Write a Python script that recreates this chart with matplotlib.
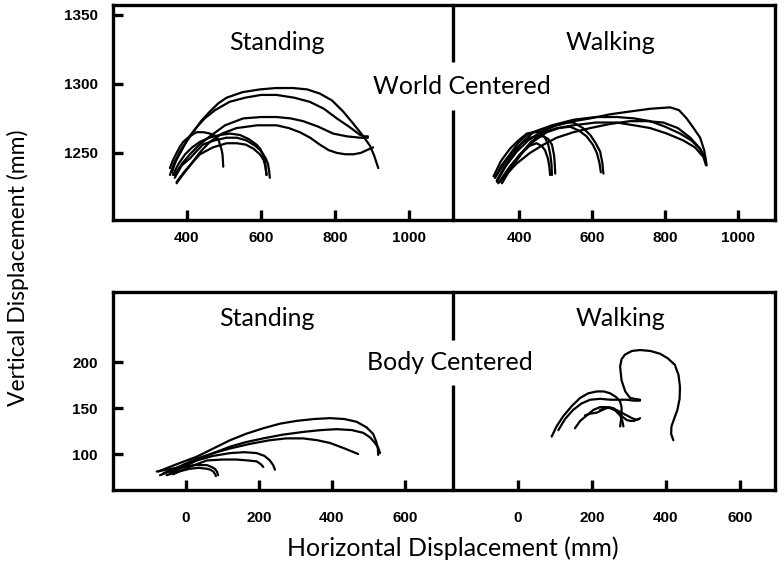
import matplotlib
matplotlib.use("Agg")
import matplotlib.pyplot as plt
from matplotlib.lines import Line2D

# ---- world centered, standing (x mm, y mm) ----
ws_x1 = [354, 366, 381, 398, 417, 438, 462, 485, 507, 550, 597, 640, 687, 725, 759, 792, 822, 847, 868, 882, 895, 906, 917]
ws_y1 = [1234, 1243, 1251, 1258, 1265, 1273, 1280, 1286, 1290, 1294, 1296, 1297, 1297, 1296, 1293, 1288, 1280, 1272, 1265, 1260, 1255, 1248, 1239]
ws_x2 = [359, 370, 386, 404, 424, 448, 476, 515, 557, 600, 642, 690, 732, 770, 805, 838, 868, 880, 889]
ws_y2 = [1236, 1244, 1252, 1261, 1268, 1275, 1281, 1287, 1290, 1292, 1292, 1290, 1287, 1282, 1275, 1269, 1263, 1262, 1262]
ws_x3 = [367, 386, 408, 434, 462, 503, 552, 600, 642, 680, 714, 755, 795, 832, 868, 889]
ws_y3 = [1234, 1242, 1249, 1256, 1262, 1270, 1275, 1276, 1276, 1275, 1273, 1269, 1264, 1262, 1261, 1261]
ws_x4 = [372, 392, 414, 437, 462, 495, 534, 590, 642, 675, 705, 733, 759, 783, 805, 828, 850, 870, 886, 903]
ws_y4 = [1229, 1236, 1243, 1251, 1258, 1264, 1268, 1270, 1270, 1268, 1265, 1261, 1256, 1252, 1250, 1249, 1249, 1250, 1252, 1254]
ws_x5 = [354, 361, 370, 380, 390, 407, 426, 445, 462, 473, 481, 486, 489, 493, 496, 497, 498]
ws_y5 = [1239, 1244, 1249, 1254, 1258, 1262, 1265, 1265, 1264, 1263, 1261, 1259, 1256, 1253, 1249, 1245, 1240]
ws_x6 = [362, 377, 395, 414, 435, 460, 489, 516, 543, 567, 588, 598, 605, 609, 611, 613, 615]
ws_y6 = [1234, 1242, 1249, 1254, 1258, 1261, 1263, 1264, 1263, 1260, 1256, 1253, 1249, 1246, 1244, 1239, 1234]
ws_x7 = [367, 386, 408, 425, 443, 473, 507, 535, 561, 585, 598, 606, 613, 619, 622, 624]
ws_y7 = [1232, 1241, 1246, 1251, 1256, 1259, 1261, 1261, 1259, 1255, 1252, 1249, 1246, 1242, 1237, 1232]
ws_x8 = [372, 388, 403, 418, 435, 470, 507, 535, 559, 580, 597, 607, 612, 615]
ws_y8 = [1228, 1234, 1239, 1244, 1249, 1254, 1257, 1257, 1256, 1253, 1249, 1245, 1240, 1234]

# ---- world centered, walking ----
ww_x1 = [334, 352, 375, 397, 421, 460, 503, 550, 595, 650, 704, 760, 814, 838, 859, 878, 896, 907, 914]
ww_y1 = [1232, 1241, 1249, 1257, 1263, 1267, 1270, 1273, 1275, 1278, 1280, 1282, 1283, 1281, 1275, 1268, 1261, 1252, 1241]
ww_x2 = [339, 360, 384, 410, 439, 490, 549, 610, 668, 715, 759, 800, 841, 872, 896, 906, 912]
ww_y2 = [1230, 1240, 1249, 1258, 1265, 1270, 1274, 1276, 1276, 1275, 1273, 1269, 1264, 1259, 1253, 1248, 1243]
ww_x3 = [348, 375, 403, 433, 467, 505, 549, 610, 668, 715, 759, 805, 850, 882, 905, 912]
ww_y3 = [1229, 1240, 1249, 1258, 1265, 1268, 1270, 1272, 1272, 1270, 1268, 1264, 1259, 1254, 1247, 1241]
ww_x4 = [357, 392, 430, 467, 503, 549, 595, 650, 704, 750, 795, 835, 869, 893, 910]
ww_y4 = [1232, 1242, 1250, 1256, 1261, 1265, 1268, 1271, 1273, 1273, 1272, 1268, 1261, 1254, 1246]
ww_x5 = [339, 365, 394, 425, 458, 503, 530, 549, 575, 595, 610, 622, 628, 631]
ww_y5 = [1229, 1241, 1251, 1259, 1265, 1270, 1272, 1272, 1268, 1263, 1257, 1251, 1243, 1235]
ww_x6 = [353, 380, 412, 443, 476, 510, 540, 565, 585, 602, 613, 620, 624]
ww_y6 = [1228, 1240, 1251, 1259, 1265, 1268, 1269, 1266, 1262, 1256, 1250, 1243, 1236]
ww_x7 = [330, 350, 375, 398, 421, 440, 458, 471, 480, 486, 489, 490]
ww_y7 = [1233, 1244, 1253, 1259, 1264, 1265, 1265, 1261, 1256, 1248, 1241, 1234]
ww_x8 = [343, 372, 403, 428, 448, 462, 471, 479, 483, 485]
ww_y8 = [1228, 1239, 1249, 1255, 1257, 1255, 1252, 1246, 1240, 1234]
ww_x9 = [334, 358, 384, 407, 430, 450, 467, 480, 490, 496, 498, 499]
ww_y9 = [1232, 1242, 1251, 1257, 1261, 1262, 1262, 1260, 1256, 1248, 1241, 1235]

# ---- body centered, standing ----
bs_x1 = [-76, -25, 29, 75, 121, 165, 212, 258, 303, 350, 395, 435, 468, 495, 513, 522, 526, 527]
bs_y1 = [81, 89, 97, 106, 115, 122, 128, 133, 136, 138, 139, 138, 135, 129, 122, 113, 106, 99]
bs_x2 = [-71, -20, 29, 75, 121, 165, 212, 265, 321, 370, 413, 455, 486, 505, 518, 527, 532]
bs_y2 = [77, 85, 93, 101, 108, 113, 117, 121, 124, 126, 127, 126, 123, 118, 112, 107, 101]
bs_x3 = [-62, -15, 29, 75, 121, 175, 230, 275, 321, 360, 395, 435, 472]
bs_y3 = [79, 87, 95, 101, 106, 111, 115, 117, 117, 115, 112, 106, 100]
bs_x4 = [-44, -5, 29, 75, 121, 160, 194, 215, 230, 239, 244]
bs_y4 = [79, 86, 93, 98, 101, 102, 101, 98, 93, 88, 83]
bs_x5 = [-35, 10, 57, 100, 139, 170, 194, 205, 212]
bs_y5 = [78, 86, 93, 94, 94, 93, 92, 89, 86]
bs_x6 = [-80, -40, -7, 25, 57, 70, 79, 85, 88]
bs_y6 = [81, 84, 86, 88, 88, 86, 84, 81, 77]
bs_x7 = [-53, -20, 11, 35, 57, 67, 75, 80, 82]
bs_y7 = [77, 81, 84, 85, 84, 83, 81, 78, 76]

# ---- body centered, walking ----
bw_x1 = [330, 315, 303, 290, 280, 276, 280, 289, 308, 330, 358, 384, 405, 424, 434, 438, 437, 431, 422, 415, 414, 420]
bw_y1 = [159, 160, 161, 168, 180, 195, 203, 208, 212, 213, 212, 209, 204, 197, 186, 173, 160, 148, 138, 130, 122, 115]
bw_x2 = [91, 104, 122, 145, 168, 190, 213, 232, 249, 265, 276, 280, 280, 279, 276]
bw_y2 = [119, 130, 141, 152, 161, 166, 168, 168, 166, 162, 157, 151, 146, 138, 130]
bw_x3 = [109, 127, 149, 172, 195, 222, 249, 272, 294, 313, 330]
bw_y3 = [126, 138, 148, 155, 159, 160, 159, 159, 159, 158, 158]
bw_x4 = [154, 168, 186, 204, 222, 236, 249, 264, 276, 282, 285]
bw_y4 = [128, 136, 142, 148, 151, 151, 150, 147, 142, 136, 130]
bw_x5 = [181, 197, 213, 229, 244, 255, 265, 280, 294, 308, 321, 327, 330]
bw_y5 = [142, 144, 145, 148, 151, 150, 148, 145, 142, 139, 137, 138, 139]
bw_x6 = [222, 240, 257, 272, 284, 294, 303, 314, 324]
bw_y6 = [148, 150, 150, 145, 140, 137, 136, 136, 138]

world_ticks_x = [400, 600, 800, 1000]
world_ticks_y = [1250, 1300, 1350]
body_ticks_x = [0, 200, 400, 600]
body_ticks_y = [100, 150, 200]

TXT = ["Lato", "DejaVu Sans"]
TCK = ["Liberation Sans", "DejaVu Sans"]

fig = plt.figure(figsize=(7.84, 5.76), dpi=100)

ax_ws = fig.add_axes([0.1441, 0.6181, 0.4337, 0.3733])
ax_ww = fig.add_axes([0.5778, 0.6181, 0.4107, 0.3733])
ax_bs = fig.add_axes([0.1441, 0.1493, 0.4337, 0.3438])
ax_bw = fig.add_axes([0.5778, 0.1493, 0.4107, 0.3438])

ax_ws.set_xlim(200, 1119); ax_ww.set_xlim(219, 1101)
ax_ws.set_ylim(1201.4, 1357.2); ax_ww.set_ylim(1201.4, 1357.2)
ax_bs.set_xlim(-200, 732); ax_bw.set_xlim(-176, 695)
ax_bs.set_ylim(60.9, 276.1); ax_bw.set_ylim(60.9, 276.1)

curves = [
    (ax_ws, [(ws_x1, ws_y1), (ws_x2, ws_y2), (ws_x3, ws_y3), (ws_x4, ws_y4),
             (ws_x5, ws_y5), (ws_x6, ws_y6), (ws_x7, ws_y7), (ws_x8, ws_y8)]),
    (ax_ww, [(ww_x1, ww_y1), (ww_x2, ww_y2), (ww_x3, ww_y3), (ww_x4, ww_y4),
             (ww_x5, ww_y5), (ww_x6, ww_y6), (ww_x7, ww_y7), (ww_x8, ww_y8),
             (ww_x9, ww_y9)]),
    (ax_bs, [(bs_x1, bs_y1), (bs_x2, bs_y2), (bs_x3, bs_y3), (bs_x4, bs_y4),
             (bs_x5, bs_y5), (bs_x6, bs_y6), (bs_x7, bs_y7)]),
    (ax_bw, [(bw_x1, bw_y1), (bw_x2, bw_y2), (bw_x3, bw_y3), (bw_x4, bw_y4),
             (bw_x5, bw_y5), (bw_x6, bw_y6)]),
]
for ax, lines in curves:
    for xs, ys in lines:
        ax.plot(xs, ys, color="black", lw=1.6, solid_joinstyle="round",
                solid_capstyle="round")

# frame + ticks
for ax in [ax_ws, ax_ww, ax_bs, ax_bw]:
    ax.patch.set_alpha(0)
    for s in ax.spines.values():
        s.set_linewidth(2.4)
    ax.tick_params(axis="both", direction="in", length=7, width=2.4,
                   labelsize=11)

for ax in [ax_ws, ax_bs]:
    ax.spines["right"].set_visible(False)
for ax in [ax_ww, ax_bw]:
    ax.spines["left"].set_visible(False)
    ax.set_yticks([])

ax_ws.set_xticks(world_ticks_x); ax_ww.set_xticks(world_ticks_x)
ax_ws.set_yticks(world_ticks_y)
ax_bs.set_xticks(body_ticks_x); ax_bw.set_xticks(body_ticks_x)
ax_bs.set_yticks(body_ticks_y)

for ax in [ax_ws, ax_ww]:
    ax.tick_params(axis="x", pad=8)
for ax in [ax_bs, ax_bw]:
    ax.tick_params(axis="x", pad=15)
for ax in [ax_ws, ax_bs]:
    ax.tick_params(axis="y", pad=11)
for ax in [ax_ws, ax_ww, ax_bs, ax_bw]:
    for lab in ax.get_xticklabels() + ax.get_yticklabels():
        lab.set_family(TCK)
        lab.set_fontweight("bold")

# divider between standing and walking, with a gap for the row title
def vseg(px, py0, py1):
    fig.add_artist(Line2D([px / 784, px / 784], [1 - py0 / 576, 1 - py1 / 576],
                          color="black", lw=2.4, solid_capstyle="butt"))

vseg(453, 5, 62)
vseg(453, 110, 220)
vseg(453, 292, 340)
vseg(453, 385, 490)

# texts (figure pixel positions from the top)
def ftext(px, py, s, size, **kw):
    fig.text(px / 784, 1 - py / 576, s, fontsize=size, family=TXT,
             ha="center", va="center", **kw)

ftext(277, 42, "Standing", 18)
ftext(610, 42, "Walking", 18)
ftext(462, 87, "World Centered", 18)
ftext(267, 318, "Standing", 18)
ftext(620, 318, "Walking", 18)
ftext(450, 363, "Body Centered", 18)
ftext(453, 548, "Horizontal Displacement (mm)", 18)
ftext(18, 268, "Vertical Displacement (mm)", 16.5, rotation=90)

fig.savefig("out.png", dpi=100)
